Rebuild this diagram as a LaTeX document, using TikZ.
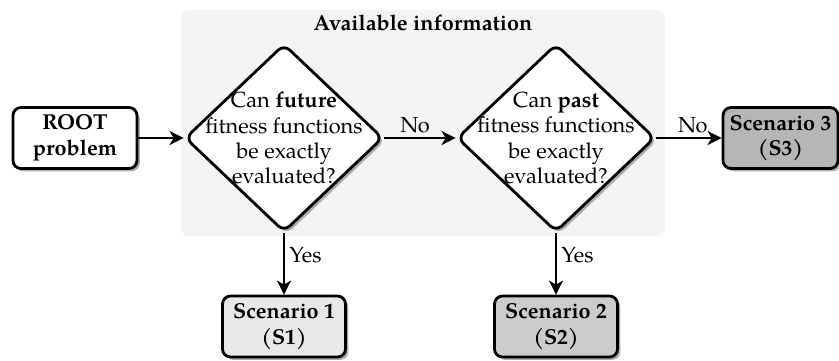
\documentclass[tikz,border=0pt]{standalone}
\usepackage{fontspec}
\setmainfont{TeX Gyre Pagella}
\usetikzlibrary{shapes.geometric,shadows,arrows.meta}
\definecolor{panelgray}{RGB}{244,244,244}
\definecolor{sone}{RGB}{232,232,232}
\definecolor{stwo}{RGB}{204,204,204}
\definecolor{sthree}{RGB}{182,182,182}
\tikzset{
  shad/.style={drop shadow={shadow xshift=1.4pt,shadow yshift=-1.4pt,fill=black!32,opacity=1}},
  panel/.style={rectangle,fill=panelgray,draw=none,rounded corners=4pt,inner sep=0pt},
  dia/.style={diamond,draw,line width=1.4pt,rounded corners=4pt,fill=white,
    minimum width=99pt,minimum height=94pt,inner sep=0pt,shad},
  qtext/.style={align=center,inner sep=0pt},
  box/.style={rectangle,draw,line width=1.4pt,rounded corners=4pt,
    minimum width=61.5pt,minimum height=30.5pt,align=center,inner sep=0pt,
    font=\fontsize{10.8}{12.8}\selectfont\bfseries,shad},
  conn/.style={line width=1.25pt,-{Stealth[length=7pt,width=7pt,inset=2pt]}},
  lbl/.style={inner sep=2pt}
}
\begin{document}
\begin{tikzpicture}[x=0.5pt,y=-0.5pt,font=\fontsize{10.9}{12.6}\selectfont]
\useasboundingbox (0,0) rectangle (839,360);
\node[panel,minimum width=242pt,minimum height=113pt] (panel) at (423,123) {};
\node[font=\fontsize{10.8}{12.8}\selectfont\bfseries] (title) at (423,23) {Available information};

\node[dia] (d1) at (284,138) {};
\node[qtext] (q1) at (d1.center) {Can \textbf{future}\\fitness functions\\be exactly\\evaluated?};
\node[dia] (d2) at (556,138) {};
\node[qtext] (q2) at (d2.center) {Can \textbf{past}\\fitness functions\\be exactly\\evaluated?};

\node[box,fill=white,minimum width=62pt] (root) at (75,138) {ROOT\\problem};
\node[box,fill=sthree,minimum width=57.5pt] (s3) at (780.5,138) {Scenario 3\\(S3)};
\node[box,fill=sone] (s1) at (284,326.5) {Scenario 1\\(S1)};
\node[box,fill=stwo] (s2) at (556,326.5) {Scenario 2\\(S2)};

\draw[conn] (root) -- (d1);
\draw[conn] (d1) -- node[lbl,above,pos=0.43] {No} (d2);
\draw[conn] (d2) -- node[lbl,above,pos=0.56] {No} (s3);
\draw[conn] (d1) -- node[lbl,right,pos=0.36] {Yes} (s1);
\draw[conn] (d2) -- node[lbl,right,pos=0.36] {Yes} (s2);
\end{tikzpicture}
\end{document}
